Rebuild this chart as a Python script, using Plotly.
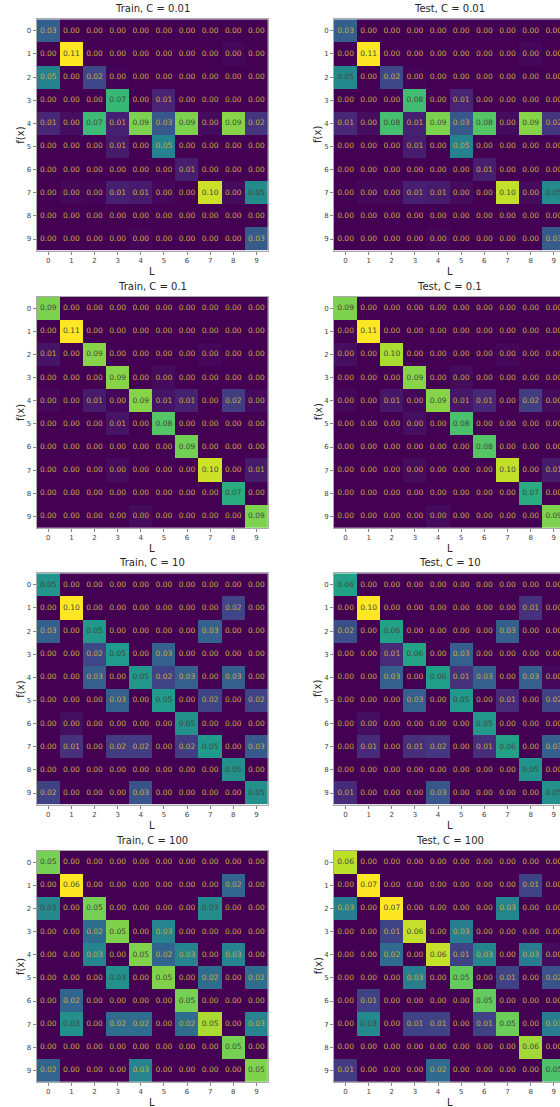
import plotly.graph_objects as go

labels = list(range(10))

train_001 = [
    [0.033, 0, 0, 0, 0, 0, 0, 0, 0, 0],
    [0, 0.110, 0, 0, 0, 0, 0, 0, 0.002, 0],
    [0.049, 0, 0.024, 0.001, 0, 0, 0, 0, 0, 0],
    [0, 0, 0, 0.074, 0, 0.011, 0, 0, 0, 0],
    [0.012, 0.004, 0.075, 0.010, 0.088, 0.030, 0.088, 0.003, 0.090, 0.017],
    [0, 0, 0, 0.008, 0, 0.049, 0, 0, 0, 0],
    [0, 0, 0, 0, 0, 0, 0.009, 0, 0, 0],
    [0, 0.002, 0.001, 0.010, 0.008, 0.002, 0, 0.102, 0.003, 0.053],
    [0, 0, 0, 0, 0, 0, 0, 0, 0, 0],
    [0, 0, 0, 0, 0.002, 0, 0, 0, 0, 0.032],
]
test_001 = [
    [0.033, 0, 0, 0, 0, 0, 0, 0, 0, 0],
    [0, 0.110, 0, 0, 0, 0, 0, 0, 0.002, 0],
    [0.052, 0, 0.024, 0.001, 0, 0, 0, 0, 0, 0],
    [0, 0, 0, 0.076, 0, 0.011, 0, 0, 0, 0],
    [0.012, 0.004, 0.077, 0.010, 0.088, 0.030, 0.080, 0.003, 0.090, 0.017],
    [0, 0, 0, 0.009, 0, 0.049, 0, 0, 0, 0],
    [0, 0, 0, 0, 0, 0, 0.009, 0, 0, 0],
    [0, 0.002, 0.002, 0.010, 0.008, 0.003, 0, 0.100, 0.003, 0.053],
    [0, 0, 0, 0, 0, 0, 0, 0, 0, 0],
    [0, 0, 0, 0, 0.002, 0, 0, 0, 0, 0.032],
]
train_01 = [
    [0.088, 0, 0, 0, 0, 0, 0, 0, 0, 0],
    [0, 0.110, 0, 0, 0, 0, 0, 0, 0, 0],
    [0.006, 0, 0.090, 0, 0, 0, 0, 0.002, 0, 0],
    [0, 0, 0, 0.090, 0, 0.003, 0, 0, 0, 0],
    [0.002, 0, 0.008, 0.002, 0.090, 0.006, 0.010, 0, 0.020, 0.003],
    [0, 0, 0, 0.006, 0, 0.080, 0, 0, 0, 0],
    [0, 0, 0, 0, 0, 0, 0.086, 0, 0, 0],
    [0, 0, 0, 0.003, 0, 0, 0, 0.102, 0, 0.008],
    [0, 0, 0, 0, 0, 0, 0, 0, 0.068, 0],
    [0, 0, 0, 0, 0.003, 0, 0, 0, 0, 0.088],
]
test_01 = [
    [0.088, 0, 0, 0, 0, 0, 0, 0, 0, 0],
    [0, 0.110, 0, 0, 0, 0, 0, 0, 0, 0],
    [0.004, 0, 0.096, 0, 0, 0, 0, 0.002, 0, 0],
    [0, 0, 0, 0.090, 0, 0.003, 0, 0, 0, 0],
    [0.002, 0, 0.007, 0.002, 0.090, 0.007, 0.012, 0, 0.020, 0.003],
    [0, 0, 0, 0.004, 0, 0.078, 0, 0, 0, 0],
    [0, 0, 0, 0, 0, 0, 0.080, 0, 0, 0],
    [0, 0, 0, 0.003, 0, 0, 0, 0.100, 0, 0.008],
    [0, 0, 0, 0, 0, 0, 0, 0, 0.068, 0],
    [0, 0, 0, 0, 0.003, 0, 0, 0, 0, 0.088],
]
train_10 = [
    [0.052, 0, 0, 0, 0, 0, 0, 0, 0, 0],
    [0, 0.100, 0, 0, 0, 0, 0, 0, 0.021, 0],
    [0.030, 0, 0.053, 0, 0, 0, 0, 0.031, 0, 0],
    [0, 0, 0.022, 0.054, 0, 0.031, 0, 0, 0, 0],
    [0, 0, 0.030, 0, 0.053, 0.020, 0.030, 0, 0.030, 0],
    [0, 0, 0, 0.030, 0, 0.054, 0, 0.020, 0, 0.020],
    [0, 0.004, 0, 0, 0, 0, 0.050, 0, 0, 0],
    [0, 0.014, 0, 0.018, 0.018, 0, 0.018, 0.054, 0, 0.028],
    [0, 0, 0, 0, 0, 0, 0, 0, 0.050, 0],
    [0.020, 0, 0, 0, 0.026, 0, 0, 0, 0, 0.050],
]
test_10 = [
    [0.057, 0, 0, 0, 0, 0, 0, 0, 0, 0],
    [0, 0.100, 0, 0, 0, 0, 0, 0, 0.014, 0],
    [0.024, 0, 0.057, 0, 0, 0, 0, 0.030, 0, 0],
    [0, 0, 0.012, 0.058, 0, 0.030, 0, 0, 0, 0],
    [0, 0, 0.030, 0, 0.056, 0.014, 0.030, 0, 0.030, 0.002],
    [0, 0, 0, 0.030, 0, 0.054, 0, 0.012, 0, 0.020],
    [0, 0.004, 0, 0, 0, 0, 0.053, 0, 0, 0],
    [0, 0.012, 0, 0.013, 0.016, 0, 0.013, 0.057, 0, 0.030],
    [0, 0, 0, 0, 0, 0, 0, 0, 0.052, 0],
    [0.012, 0, 0, 0, 0.027, 0, 0, 0, 0, 0.050],
]
train_100 = [
    [0.049, 0, 0, 0, 0, 0, 0, 0, 0, 0],
    [0, 0.062, 0, 0, 0, 0, 0, 0, 0.020, 0],
    [0.029, 0, 0.049, 0, 0, 0, 0, 0.030, 0, 0],
    [0, 0, 0.022, 0.050, 0, 0.028, 0, 0, 0, 0],
    [0, 0, 0.028, 0, 0.050, 0.020, 0.028, 0, 0.028, 0],
    [0, 0, 0, 0.031, 0, 0.050, 0, 0.022, 0, 0.022],
    [0, 0.020, 0, 0, 0, 0, 0.049, 0, 0, 0],
    [0, 0.031, 0, 0.022, 0.022, 0, 0.022, 0.054, 0, 0.028],
    [0, 0, 0, 0, 0, 0, 0, 0, 0.049, 0],
    [0.020, 0, 0, 0, 0.028, 0, 0, 0, 0, 0.050],
]
test_100 = [
    [0.063, 0, 0, 0, 0, 0, 0, 0, 0, 0],
    [0, 0.070, 0, 0, 0, 0, 0, 0, 0.014, 0],
    [0.030, 0, 0.070, 0, 0, 0, 0, 0.032, 0, 0],
    [0, 0, 0.014, 0.064, 0, 0.030, 0, 0, 0, 0],
    [0, 0, 0.024, 0, 0.064, 0.014, 0.032, 0, 0.030, 0.002],
    [0, 0, 0, 0.030, 0, 0.053, 0, 0.014, 0, 0.018],
    [0, 0.014, 0, 0, 0, 0, 0.053, 0, 0, 0],
    [0, 0.033, 0, 0.014, 0.014, 0, 0.014, 0.054, 0, 0.030],
    [0, 0, 0, 0, 0, 0, 0, 0, 0.060, 0],
    [0.012, 0, 0, 0, 0.024, 0, 0, 0, 0, 0.050],
]

panels = [
    ("Train, C = 0.01", train_001), ("Test, C = 0.01", test_001),
    ("Train, C = 0.1", train_01), ("Test, C = 0.1", test_01),
    ("Train, C = 10", train_10), ("Test, C = 10", test_10),
    ("Train, C = 100", train_100), ("Test, C = 100", test_100),
]

W, H = 560, 1107
cell = 23.13
left_x0 = 36.7
right_x0 = 334.0
tops = [19.3, 296.7, 573.3, 850.7]
size = cell * 10

FONT = "DejaVu Sans"
LIGHT_TXT = "#c9aa3c"
DARK_TXT = "#3f4a3a"

fig = go.Figure()
annotations = []
layout_axes = {}

for i, (title, z) in enumerate(panels):
    r, c = divmod(i, 2)
    n = i + 1
    xa = "x" if n == 1 else f"x{n}"
    ya = "y" if n == 1 else f"y{n}"
    xkey = "xaxis" if n == 1 else f"xaxis{n}"
    ykey = "yaxis" if n == 1 else f"yaxis{n}"
    x0 = left_x0 if c == 0 else right_x0
    x1 = min(x0 + size, W)
    top = tops[r]
    bot = top + size
    xmax = -0.5 + (x1 - x0) / cell

    fig.add_trace(go.Heatmap(
        z=z, x=labels, y=labels, xaxis=xa, yaxis=ya,
        colorscale="Viridis", showscale=False, hoverinfo="skip",
    ))

    zmax = max(max(row) for row in z)
    tx, ty, tt, tc = [], [], [], []
    for ri, row in enumerate(z):
        for ci, v in enumerate(row):
            tx.append(labels[ci])
            ty.append(labels[ri])
            tt.append(f"{v:.2f}")
            tc.append(DARK_TXT if v / zmax >= 0.46 else LIGHT_TXT)
    fig.add_trace(go.Scatter(
        x=tx, y=ty, text=tt, mode="text", xaxis=xa, yaxis=ya,
        textfont=dict(family=FONT, size=7.5, color=tc),
        hoverinfo="skip", showlegend=False,
    ))

    tick = dict(tickmode="array", tickvals=labels, ticktext=[str(v) for v in labels],
                ticks="outside", ticklen=3, tickcolor="#666", tickwidth=0.8,
                tickfont=dict(family=FONT, size=7, color="#444"),
                showgrid=False, zeroline=False, showline=True,
                linecolor="#aaa", linewidth=1, fixedrange=True)
    layout_axes[xkey] = dict(tick, domain=[x0 / W, x1 / W], range=[-0.5, xmax],
                             anchor=ya, mirror=True)
    layout_axes[ykey] = dict(tick, domain=[1 - bot / H, 1 - top / H], range=[9.5, -0.5],
                             anchor=xa, mirror=(c == 0))

    cx = x0 + size / 2
    annotations.append(dict(text=title, x=cx / W, y=1 - (top - 3) / H, xref="paper", yref="paper",
                            xanchor="center", yanchor="bottom", showarrow=False,
                            font=dict(family=FONT, size=10, color="#262626")))
    annotations.append(dict(text="L", x=cx / W, y=1 - (bot + 13) / H, xref="paper", yref="paper",
                            xanchor="center", yanchor="top", showarrow=False,
                            font=dict(family=FONT, size=10, color="#262626")))
    annotations.append(dict(text="f(x)", x=(x0 - 16) / W, y=1 - (top + size / 2) / H,
                            xref="paper", yref="paper", textangle=-90,
                            xanchor="center", yanchor="middle", showarrow=False,
                            font=dict(family=FONT, size=10, color="#262626")))

fig.update_layout(
    width=W, height=H,
    margin=dict(l=0, r=0, t=0, b=0),
    paper_bgcolor="white", plot_bgcolor="white",
    annotations=annotations,
    hovermode=False,
    **layout_axes,
)

fig.write_html("out.html", config={"displayModeBar": False, "staticPlot": True},
               post_script="document.body.style.margin='0';")
